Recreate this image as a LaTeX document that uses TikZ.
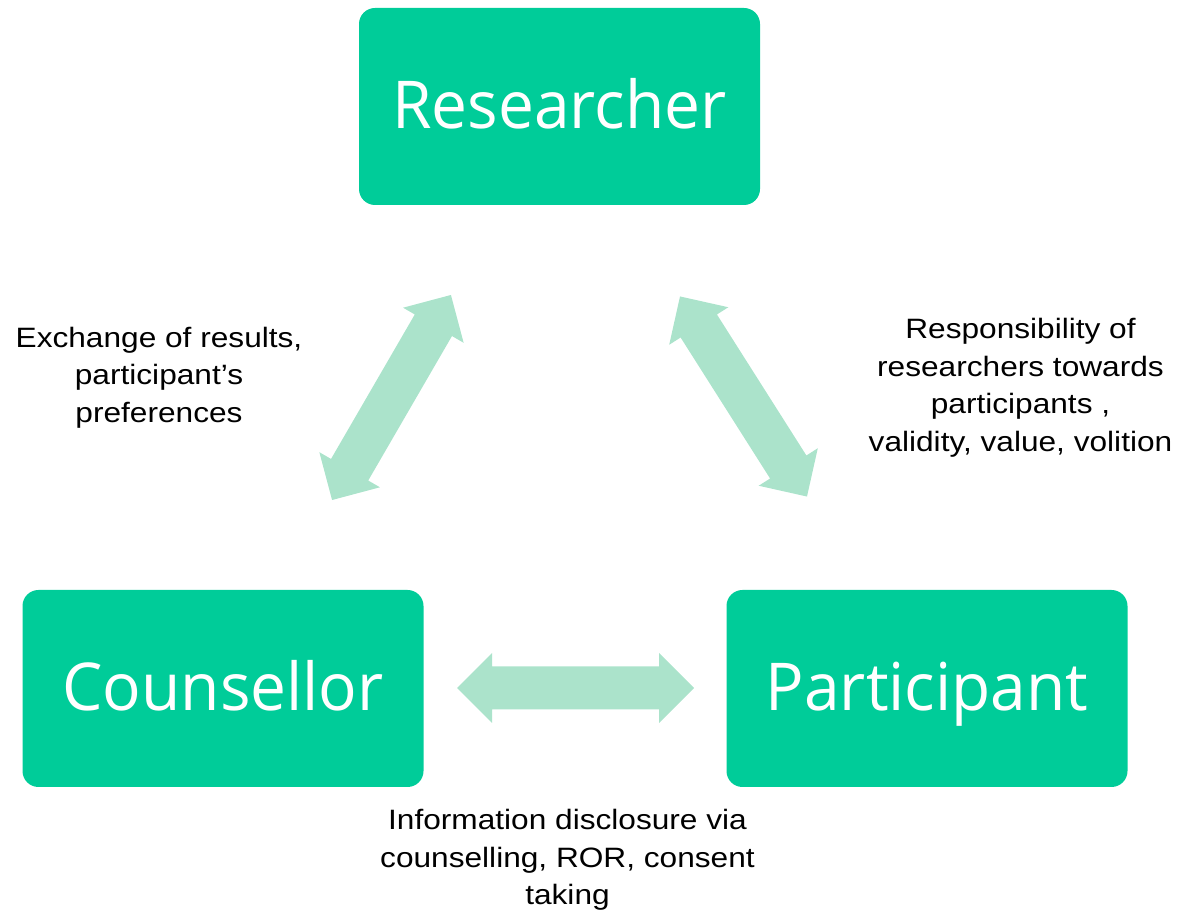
\documentclass[tikz,border=0pt]{standalone}
\usepackage{fontspec}
\setmainfont{Liberation Sans}
\newfontfamily\boxfont[FakeStretch=0.97]{Open Sans}
\newfontfamily\labfont[FakeStretch=1.13]{Liberation Sans}
\definecolor{boxgreen}{RGB}{0,204,153}
\definecolor{arrowgreen}{RGB}{171,227,203}
\newcommand\twowayarrow[2]{%
  \fill[twoway, shift={#1}, rotate=#2]
    (-118.5,0) -- (-83.5,35) -- (-83.5,21.5) -- (83.5,21.5) -- (83.5,35)
    -- (118.5,0) -- (83.5,-35) -- (83.5,-21.5) -- (-83.5,-21.5) -- (-83.5,-35) -- cycle;}
\begin{document}
\begin{tikzpicture}[x=1pt,y=1pt,
  rolebox/.style={fill=boxgreen, draw=none, rounded corners=16pt,
    minimum width=401pt, minimum height=197pt, inner sep=0pt, text=white,
    text height=47pt, text depth=3pt,
    font=\boxfont\fontsize{66}{70}\selectfont},
  lab/.style={align=center, inner sep=0pt, anchor=north,
    font=\labfont\fontsize{28}{37.5}\selectfont},
  twoway/.style={fill=arrowgreen, draw=none}]
\useasboundingbox (0,0) rectangle (1178,913);
\node[rolebox] (res) at (559.5,806.5) {Researcher};
\node[rolebox] (cou) at (223,224.5) {Counsellor};
\node[rolebox] (par) at (927,224.5) {Participant};
\coordinate (aL) at (391.5,515.5);
\coordinate (aR) at (743.5,516.5);
\coordinate (aB) at (575.5,225);
\twowayarrow{(aL)}{59.9}
\twowayarrow{(aR)}{122.4}
\twowayarrow{(aB)}{0}
\node[lab] (lL) at (159,586.3) {Exchange of results,\\participant’s\\preferences};
\node[lab] (lR) at (1020.5,594.7) {Responsibility of\\researchers towards\\participants ,\\validity, value, volition};
\node[lab] (lB) at (567.5,103.7) {Information disclosure via\\counselling, ROR, consent\\taking};
\end{tikzpicture}
\end{document}
